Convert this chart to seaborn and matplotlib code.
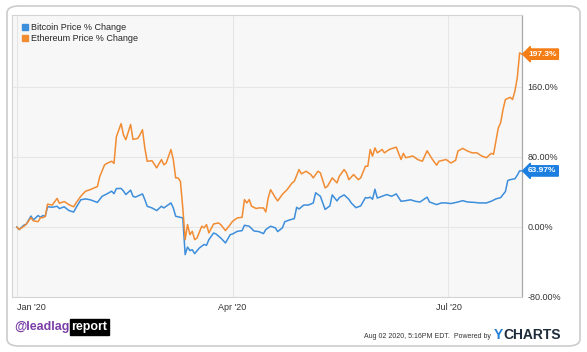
import pandas as pd
import matplotlib.pyplot as plt
import seaborn as sns
from matplotlib.patches import FancyBboxPatch
from matplotlib.transforms import offset_copy

# days counted from Jan 1 2020, values in % change
btc_day = [0, 1, 3, 4, 6, 7, 9, 10, 11, 12, 13, 15, 17, 18, 20, 22, 24, 25, 27, 29,
           31, 34, 36, 38, 40, 41, 42, 44, 45, 46, 48, 49, 50, 53, 54, 55, 57, 59, 61, 62,
           65, 66, 67, 69, 70, 71, 72, 73, 74, 75, 77, 79, 80, 81, 83, 84, 86, 88, 90, 91,
           93, 95, 96, 98, 100, 102, 103, 104, 105, 107, 109, 110, 112, 113, 115, 117, 118, 119, 121, 123,
           125, 126, 128, 129, 130, 132, 133, 135, 136, 138, 140, 141, 143, 145, 147, 148, 149, 150, 151, 152,
           154, 156, 158, 160, 162, 164, 166, 168, 170, 173, 174, 177, 179, 181, 183, 186, 188, 190, 193, 195,
           198, 200, 202, 204, 206, 207, 208, 210, 211, 212, 213]
btc_pct = [0, -3, 2, 3, 12.5, 8, 13, 11, 13, 12, 23, 22.5, 23.6, 21, 23, 18.7, 17, 22, 31, 32,
           31, 28, 35, 37.7, 40.8, 38, 43.8, 44, 41, 37, 42, 35, 34, 37.7, 31.2, 23.6, 21.7, 18.7, 23.6, 21.7,
           27.4, 21.7, 12.2, 11, 10.3, -31.6, -23, -27, -26, -30.5, -24, -20, -21, -14.5, -6.9, -8, -12.6, -18.3, -8.8, -8,
           -5, -4.2, 1.9, 0.8, -4.6, -5.3, -6.5, -7.6, -3, 0.8, -1, -5.3, -1, 6, 8, 9.5, 22.4, 20.5, 25, 25,
           27.4, 39, 35, 27.4, 20, 24, 36.6, 29.7, 33.5, 36.6, 31.6, 27.4, 22, 24, 33.5, 33, 34, 31.6, 43, 33,
           35, 37, 35, 37.7, 29.3, 30, 31, 29.3, 28.5, 34, 28.5, 25.5, 27.4, 27.4, 26.7, 28.5, 30, 28.5, 28, 27.4,
           27.4, 29.3, 32, 33.5, 40.4, 53, 54, 55, 59, 64, 63.97]

eth_day = [0, 1, 3, 4, 6, 7, 9, 10, 11, 12, 13, 15, 17, 18, 20, 22, 24, 25, 27, 28,
           29, 31, 33, 34, 35, 37, 38, 40, 41, 42, 44, 45, 46, 48, 49, 51, 52, 53, 54, 55,
           57, 59, 61, 62, 63, 65, 66, 67, 68, 69, 70, 71, 72, 73, 74, 75, 76, 78, 79, 80,
           81, 83, 85, 86, 88, 90, 91, 93, 95, 96, 97, 98, 99, 101, 102, 104, 105, 106, 107, 109,
           110, 112, 114, 116, 117, 119, 120, 122, 124, 125, 127, 128, 130, 131, 133, 135, 136, 138, 139, 140,
           142, 144, 145, 147, 148, 149, 150, 151, 152, 154, 155, 157, 159, 160, 162, 163, 164, 167, 169, 171,
           173, 175, 177, 178, 181, 183, 185, 186, 188, 190, 192, 194, 196, 198, 200, 201, 202, 203, 204, 205,
           206, 208, 209, 210, 211, 212, 213]
eth_pct = [0, -3, 0.8, 3, 10.6, 7, 6, 10.6, 10.6, 12, 26, 25, 32.6, 27, 29, 25.5, 23, 27.4, 35, 38,
           40.8, 42.6, 45, 46, 57.5, 70.8, 72.6, 75, 72.6, 103, 118, 105, 99.6, 117, 100, 101, 105.5, 111, 90, 75,
           75.6, 67.5, 76.9, 71, 73, 88.4, 76.9, 56, 56, 52, 21.7, -14.5, 2.7, -8.8, -5, -14.5, -12.6, 0.8, -1, 2.7,
           -6.9, 3.4, 4.6, 2.7, -4.2, 2.7, 6.5, 10.3, 11, 31.2, 27.4, 31.2, 23.6, 21, 21.7, 21.7, 17.1, 33, 42.6, 33.5,
           29.7, 37.3, 42.6, 50, 52, 65.5, 60.6, 63.6, 59.8, 56, 63.6, 61.7, 44.6, 46.4, 56, 50.3, 57.9, 65.5, 61.7, 54,
           59.8, 54, 56, 69.3, 69.3, 88.4, 80.8, 90.3, 84.6, 88.4, 84.6, 88.4, 90.3, 91, 77, 84, 79, 81, 77, 75,
           87, 78, 70.5, 75, 77, 73, 76, 86.7, 89.7, 86.7, 84.6, 84.6, 81, 79, 84, 83, 98, 113, 119, 134,
           145.5, 148, 145.5, 155, 170, 198.7, 197.3]

series_names = ['Bitcoin Price % Change', 'Ethereum Price % Change']
line_colors = ['#3d8edb', '#f28c33']
tag_colors = ['#1c7fe0', '#f57d15']
end_labels = ['63.97%', '197.3%']
y_ticks = [-80, 0, 80, 160]
y_tick_labels = ['-80.00%', '0.00%', '80.00%', '160.0%']
x_ticks = ['2020-01-01', '2020-04-01', '2020-07-01']
x_tick_labels = ["Jan '20", "Apr '20", "Jul '20"]

start = pd.Timestamp('2020-01-01')
df = pd.concat([
    pd.DataFrame({'date': start + pd.to_timedelta(btc_day, unit='D'), 'pct': btc_pct, 'series': series_names[0]}),
    pd.DataFrame({'date': start + pd.to_timedelta(eth_day, unit='D'), 'pct': eth_pct, 'series': series_names[1]}),
])

sns.set_style('white')
plt.rcParams['font.family'] = ['Liberation Sans', 'DejaVu Sans']

fig = plt.figure(figsize=(5.87, 3.52), dpi=100)
ax = fig.add_axes([12 / 587, 1 - 297 / 352, 510 / 587, 282 / 352])
ax.set_facecolor('#f7f7f7')

sns.lineplot(data=df, x='date', y='pct', hue='series', palette=dict(zip(series_names, line_colors)),
             linewidth=1.1, ax=ax, legend=False)

ax.set_xlim(start - pd.Timedelta(days=2), start + pd.Timedelta(days=213))
ax.set_ylim(-80, 242)
ax.set_xlabel('')
ax.set_ylabel('')

ax.set_xticks(pd.to_datetime(x_ticks))
ax.set_xticklabels(x_tick_labels, fontsize=6.5, color='#333333')
ax.get_xticklabels()[0].set_ha('left')
ax.yaxis.tick_right()
ax.set_yticks(y_ticks)
ax.set_yticklabels(y_tick_labels, fontsize=6.5, color='#333333')
ax.tick_params(length=0, pad=4)
ax.grid(True, color='#e6e6e6', linewidth=0.8)
for side in ['top', 'left', 'bottom']:
    ax.spines[side].set_color('#d4d4d4')
    ax.spines[side].set_linewidth(0.8)
ax.spines['right'].set_color('#a8a8a8')
ax.spines['right'].set_linewidth(0.9)

# end value tags
last_days = [btc_day[-1], eth_day[-1]]
last_vals = [btc_pct[-1], eth_pct[-1]]
for d, v, lab, c in zip(last_days, last_vals, end_labels, tag_colors):
    ax.annotate(lab, xy=(start + pd.Timedelta(days=d), v), xytext=(4.5, 0), textcoords='offset points',
                va='center', ha='left', fontsize=6, color='white', fontweight='bold',
                bbox=dict(boxstyle='larrow,pad=0.2', fc=c, ec=c), annotation_clip=False)

# legend
handles = [plt.Line2D([], [], marker='s', linestyle='', color=c, markersize=4.5) for c in line_colors]
ax.legend(handles, series_names, loc='upper left', bbox_to_anchor=(0.0, 1.0), frameon=False,
          fontsize=6.5, handletextpad=0.2, borderaxespad=0.5, labelspacing=0.25, handlelength=1.0)

# footer
fig.canvas.draw()
r = fig.canvas.get_renderer()
t1 = fig.text(14 / 587, 1 - 327 / 352, '@leadlag', fontsize=9, fontweight='bold', color='#7a3fa8', va='center')
w1 = t1.get_window_extent(r).width
fig.text(0, 0, 'report', fontsize=9, color='white', va='center', fontweight='bold',
         transform=offset_copy(fig.transFigure, fig=fig, x=14 + w1 + 2, y=352 - 327, units='dots'),
         bbox=dict(boxstyle='square,pad=0.15', fc='black', ec='black'))
fig.text(491 / 587, 1 - 337 / 352, 'Aug 02 2020, 5:16PM EDT.  Powered by', fontsize=5, color='#333333',
         ha='right', va='center')
t2 = fig.text(494 / 587, 1 - 335 / 352, 'Y', fontsize=10, fontweight='bold', color='#1c7ed6', va='center')
w2 = t2.get_window_extent(r).width
fig.text(0, 0, 'CHARTS', fontsize=10, fontweight='bold', color='#1d2b3a', va='center',
         transform=offset_copy(fig.transFigure, fig=fig, x=494 + w2, y=352 - 335, units='dots'))

card = FancyBboxPatch((7 / 587, 6 / 352), 573 / 587, 340 / 352, transform=fig.transFigure,
                      boxstyle='round,pad=0,rounding_size=0.02', fc='none', ec='#cccccc', lw=1.2)
fig.patches.append(card)

fig.savefig('out.png', dpi=100)
